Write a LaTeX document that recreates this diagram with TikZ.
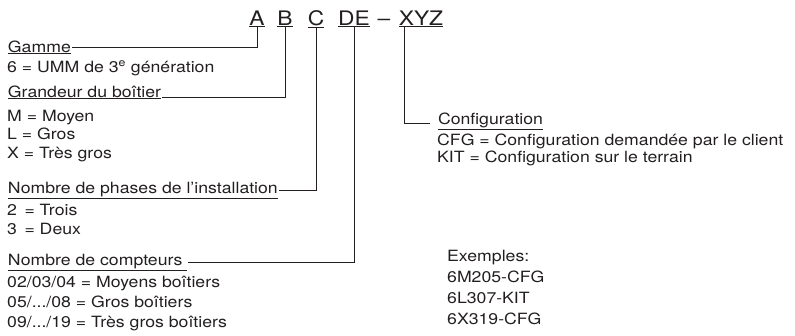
\documentclass[tikz,border=0pt]{standalone}
\usepackage{fontspec}
\setmainfont{TeX Gyre Heros}[FakeStretch=1.14]
\usetikzlibrary{positioning}
\definecolor{ink}{HTML}{231F20}

\begin{document}
\begin{tikzpicture}[
  x=1pt,y=-1pt,
  code/.style={inner sep=0pt, anchor=base, font=\fontsize{20}{24}\selectfont, text=ink},
  title/.style={inner sep=0pt, outer sep=1pt, anchor=base west, font=\fontsize{15.5}{18}\selectfont, text=ink},
  desc/.style={inner sep=0pt, anchor=base west, font=\fontsize{15.5}{18}\selectfont, text=ink},
  lead/.style={draw=ink, line width=0.8pt}
]
\useasboundingbox (0,0) rectangle (795,335);
% code letters
\node[code] (cA) at (257,25) {\underline{A}};
\node[code] (cB) at (285,25) {\underline{B}};
\node[code] (cC) at (316,25) {\underline{C}};
\node[code] (cDE) at (354,25) {\underline{DE}};
\node[code] (cdash) at (384,25) {--};
\node[code] (cXYZ) at (421,25) {\underline{XYZ}};
% left column
\node[title] (gamme) at (7,52) {\underline{Gamme}};
\node[desc] (g1) at (7,72) {6 = UMM de 3\textsuperscript{e} génération};
\node[title] (grand) at (7,97) {\underline{Grandeur du boîtier}};
\foreach \t [count=\i] in {M = Moyen, L = Gros, X = Très gros}
  \node[desc] (b\i) at (7,121+18.5*\i-18.5) {\t};
\node[title] (phases) at (7,193) {\underline{Nombre de phases de l’installation}};
\node[desc] (p1) at (7,215) {2 \,= Trois};
\node[desc] (p2) at (7,234) {3 \,= Deux};
\node[title] (compt) at (7,265) {\underline{Nombre de compteurs }};
\node[desc] (n1) at (7,287) {02/03/04 = Moyens boîtiers};
\node[desc] (n2) at (7,307) {05/.../08 = Gros boîtiers};
\node[desc] (n3) at (7,327) {09/.../19 = Très gros boîtiers};
% right column
\node[title] (config) at (437,124) {\underline{Configuration}};
\node[desc] (k1) at (437,145) {CFG = Configuration demandée par le client};
\node[desc] (k2) at (437,162) {KIT = Configuration sur le terrain};
\node[desc] (ex) at (447,261) {Exemples:};
\foreach \t [count=\i] in {6M205-CFG, 6L307-KIT, 6X319-CFG}
  \node[desc] (ex\i) at (447,261+21*\i) {\t};
% leaders
\draw[lead] (cA.south) |- (gamme.east);
\draw[lead] (cB.south) |- (grand.base east);
\draw[lead] (cC.south) |- (phases.east);
\draw[lead] (cDE.south) |- ([yshift=3pt]compt.base east);
\draw[lead] ([xshift=6pt]cXYZ.south west) |- ([xshift=-7pt,yshift=1pt]config.base west);
\end{tikzpicture}
\end{document}
